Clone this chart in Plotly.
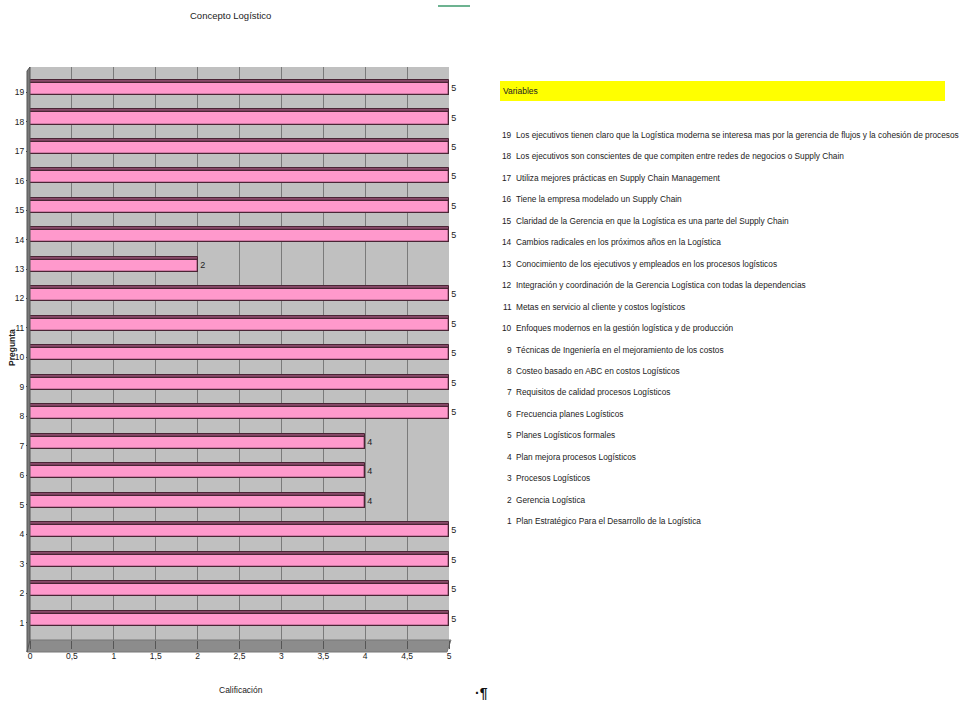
import plotly.graph_objects as go

# ---- data ----
preguntas = list(range(1, 20))
calificacion = [5, 5, 5, 5, 4, 4, 4, 5, 5, 5, 5, 5, 2, 5, 5, 5, 5, 5, 5]
x_ticks = [0, 0.5, 1, 1.5, 2, 2.5, 3, 3.5, 4, 4.5, 5]
x_tick_labels = ["0", "0,5", "1", "1,5", "2", "2,5", "3", "3,5", "4", "4,5", "5"]
variables = [
    "Plan Estratégico Para el Desarrollo de la Logística",
    "Gerencia Logística",
    "Procesos Logísticos",
    "Plan mejora procesos Logísticos",
    "Planes Logísticos formales",
    "Frecuencia planes Logísticos",
    "Requisitos de calidad procesos Logísticos",
    "Costeo basado en ABC en costos Logísticos",
    "Técnicas de Ingeniería en el mejoramiento de los costos",
    "Enfoques modernos en la gestión logística y de producción",
    "Metas en servicio al cliente y costos logísticos",
    "Integración y coordinación de la Gerencia Logística con todas la dependencias",
    "Conocimiento de los ejecutivos y empleados en los procesos logísticos",
    "Cambios radicales en los próximos años en la Logística",
    "Claridad de la Gerencia en que la Logística es una parte del Supply Chain",
    "Tiene la empresa modelado un Supply Chain",
    "Utiliza mejores prácticas en Supply Chain Management",
    "Los ejecutivos son conscientes de que compiten entre redes de negocios o Supply Chain",
    "Los ejecutivos tienen claro que la Logística moderna se interesa mas por la gerencia de flujos y la cohesión de procesos",
]

FONT = "Liberation Sans, Arial, sans-serif"
W, H = 965, 704


def px(x):
    return x / W


def py(y):
    return 1 - y / H


fig = go.Figure()

# 3D top face (darker band) behind
fig.add_trace(go.Bar(
    y=preguntas, x=calificacion, orientation="h",
    width=0.51, offset=-0.1,
    marker=dict(color="#8a4a6a", line=dict(color="#4a2535", width=1)),
    hoverinfo="skip", showlegend=False,
))
# front face
fig.add_trace(go.Bar(
    y=preguntas, x=calificacion, orientation="h",
    width=0.41, offset=-0.1,
    marker=dict(color="#ff99cc", line=dict(color="#4a2535", width=1.3)),
    text=[str(v) for v in calificacion], textposition="outside",
    textfont=dict(family=FONT, size=9, color="#222"),
    cliponaxis=False, showlegend=False,
))

x0, x1 = 30, 449
y0, y1 = 67, 640

fig.update_layout(
    width=W, height=H,
    margin=dict(l=0, r=0, t=0, b=0),
    paper_bgcolor="white",
    plot_bgcolor="#c0c0c0",
    barmode="overlay",
    bargap=0,
    font=dict(family=FONT, size=9, color="#222"),
    xaxis=dict(
        domain=[px(x0), px(x1)], range=[0, 5],
        tickvals=x_ticks, ticktext=x_tick_labels,
        showgrid=True, gridcolor="#7a7a7a", gridwidth=1,
        ticks="outside", ticklen=8, tickcolor="#555",
        showline=False, zeroline=False, automargin=False,
        tickfont=dict(family=FONT, size=8.5, color="#222"),
    ),
    yaxis=dict(
        domain=[py(y1), py(y0)], range=[0.42, 19.85],
        tickvals=preguntas, ticktext=[str(p) for p in preguntas],
        showgrid=False, zeroline=False,
        showline=True, linecolor="#333", linewidth=1,
        ticks="outside", ticklen=3, tickcolor="#333",
        automargin=False,
        tickfont=dict(family=FONT, size=8.5, color="#222"),
    ),
    shapes=[
        # floor
        dict(type="path", xref="paper", yref="paper",
             path=f"M {px(x0)},{py(y1)} L {px(x1+2)},{py(y1)} L {px(x1-2)},{py(y1+12)} L {px(x0-3)},{py(y1+12)} Z",
             fillcolor="#8c8c8c", line=dict(color="#777", width=1), layer="below"),
        # left wall
        dict(type="path", xref="paper", yref="paper",
             path=f"M {px(x0-3)},{py(y0+4)} L {px(x0)},{py(y0)} L {px(x0)},{py(y1)} L {px(x0-3)},{py(y1+12)} Z",
             fillcolor="#7a7a7a", line=dict(color="#555", width=1), layer="above"),
        # yellow label box
        dict(type="rect", xref="paper", yref="paper",
             x0=px(500), x1=px(945), y0=py(101), y1=py(81),
             fillcolor="#ffff00", line=dict(width=0), layer="below"),
        # green line top
        dict(type="line", xref="paper", yref="paper",
             x0=px(438), x1=px(470), y0=py(6), y1=py(6),
             line=dict(color="#3c9a6c", width=1.5)),
    ],
)

ann = [
    dict(text="Concepto Logístico", x=px(230), y=py(16), xanchor="center", yanchor="middle",
         showarrow=False, font=dict(family=FONT, size=9.5, color="#222")),
    dict(text="Calificación", x=px(241), y=py(690), xanchor="center", yanchor="middle",
         showarrow=False, font=dict(family=FONT, size=8.5, color="#222")),
    dict(text="<b>Pregunta</b>", x=px(12), y=py(348), xanchor="center", yanchor="middle",
         showarrow=False, textangle=-90, font=dict(family=FONT, size=8.5, color="#222")),
    dict(text="<b>·¶</b>", x=px(481), y=py(693), xanchor="center", yanchor="middle",
         showarrow=False, font=dict(family=FONT, size=14, color="#111")),
    dict(text="Variables", x=px(501), y=py(91), xanchor="left", yanchor="middle",
         showarrow=False, font=dict(family=FONT, size=8.5, color="#222")),
]

top_y, step = 135, 21.45
for i, p in enumerate(reversed(preguntas)):
    yy = top_y + i * step
    ann.append(dict(text=str(p), x=px(514), y=py(yy), xanchor="right", yanchor="middle",
                    showarrow=False, font=dict(family=FONT, size=8.3, color="#222")))
    ann.append(dict(text=variables[p - 1], x=px(514), y=py(yy), xanchor="left", yanchor="middle",
                    showarrow=False, font=dict(family=FONT, size=8.3, color="#222")))

for a in ann:
    a["xref"] = "paper"
    a["yref"] = "paper"

fig.update_layout(annotations=ann)
fig.write_html("out.html", config={"displayModeBar": False},
               post_script="document.body.style.margin='0';")
